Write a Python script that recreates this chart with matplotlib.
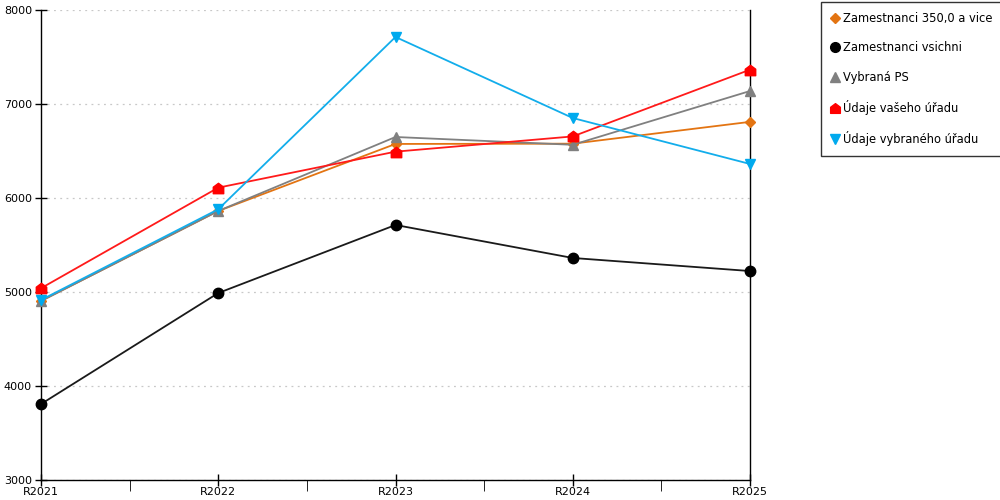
import matplotlib
matplotlib.use("Agg")
import matplotlib.pyplot as plt
from matplotlib.path import Path
from matplotlib.lines import Line2D

categories = ["R2021", "R2022", "R2023", "R2024", "R2025"]
s_350 = [4905, 5862, 6575, 6578, 6810]
s_all = [3808, 4989, 5713, 5362, 5223]
s_ps = [4904, 5862, 6649, 6566, 7138]
s_vas = [5040, 6110, 6493, 6655, 7365]
s_vyb = [4915, 5880, 7713, 6851, 6362]

labels = ["Zamestnanci 350,0 a vice", "Zamestnanci vsichni", "Vybraná PS",
          "Údaje vašeho úřadu", "Údaje vybraného úřadu"]

house = Path([(-1, -1), (1, -1), (1, 0.25), (0, 1), (-1, 0.25), (-1, -1)],
             [Path.MOVETO, Path.LINETO, Path.LINETO, Path.LINETO, Path.LINETO, Path.CLOSEPOLY])

styles = [
    dict(color="#E37412", marker="D", ms=5.5),
    dict(color="#1a1a1a", marker="o", ms=7.5),
    dict(color="#808080", marker="^", ms=7.5),
    dict(color="#FF1A1A", marker=house, ms=7.5),
    dict(color="#12ADEB", marker="v", ms=7.5),
]
mcolors = ["#E37412", "#000000", "#808080", "#FF0000", "#00AAEE"]

plt.rcParams['font.family'] = ['DejaVu Sans']
fig = plt.figure(figsize=(10, 5), dpi=100)
ax = fig.add_axes([0.041, 0.04, 0.709, 0.94])

x = list(range(len(categories)))
series = [s_350, s_all, s_ps, s_vas, s_vyb]
for s, st, mc in zip(series, styles, mcolors):
    ax.plot(x, s, color=st["color"], lw=1.3, marker=st["marker"], ms=st["ms"],
            mfc=mc, mec=mc, zorder=3, clip_on=False)

ax.set_xlim(0, 4)
ax.set_ylim(3000, 8000)
ax.set_yticks(range(3000, 8001, 1000))
ax.set_xticks(x)
ax.set_xticklabels(categories)
ax.set_xticks([0.5, 1.5, 2.5, 3.5], minor=True)
ax.tick_params(axis="both", labelsize=8, direction="inout", width=1, color="black")
ax.tick_params(axis="x", which="both", length=8, pad=1)
ax.tick_params(axis="y", length=9, pad=2)
ax.yaxis.grid(True, color="#c8c8c8", linestyle=(0, (1.5, 3.5)), lw=0.9)
ax.spines["top"].set_visible(False)
for sp in ["left", "right", "bottom"]:
    ax.spines[sp].set_linewidth(1)
    ax.spines[sp].set_color("black")

handles = [Line2D([], [], linestyle="none", marker=st["marker"], ms=st["ms"] - 0.5,
                  mfc=mc, mec=mc) for st, mc in zip(styles, mcolors)]
leg = fig.legend(handles, labels, loc="upper left", bbox_to_anchor=(0.821, 0.996),
                 frameon=True, fancybox=False, edgecolor="black", fontsize=8.3,
                 labelspacing=1.42, handlelength=0.7, handletextpad=0.35,
                 borderpad=0.85, borderaxespad=0)
leg.get_frame().set_linewidth(1)

fig.savefig("out.png", dpi=100)
